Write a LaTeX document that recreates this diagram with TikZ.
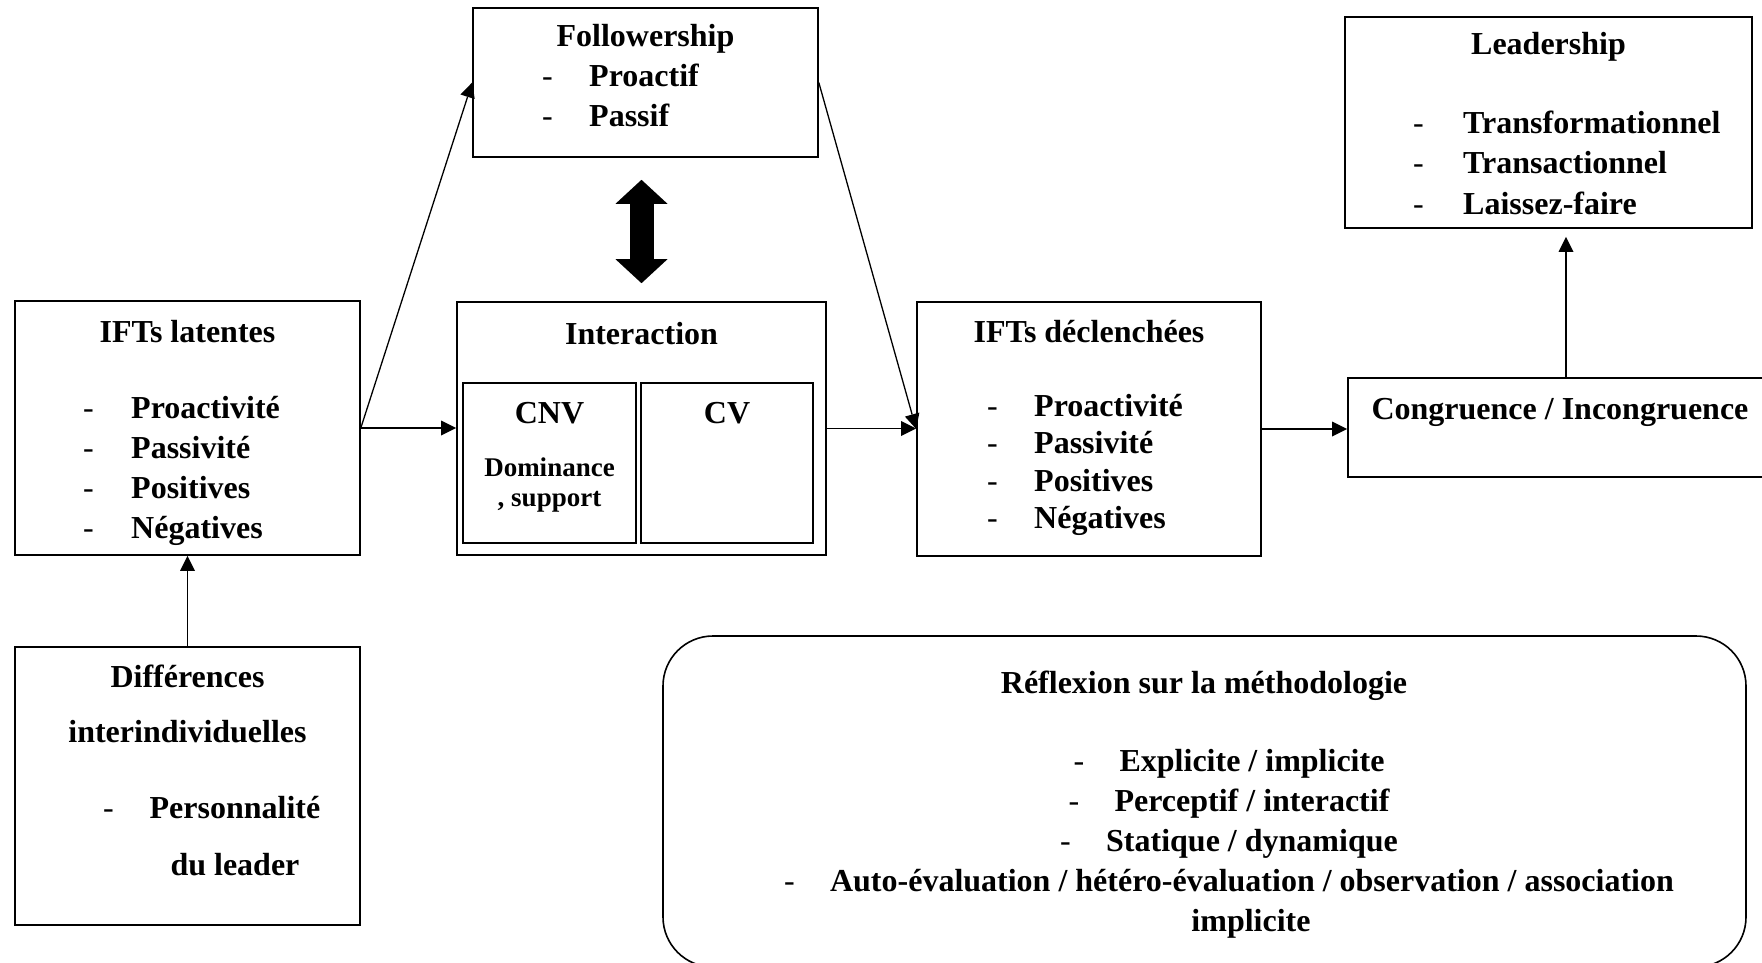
\documentclass[tikz,border=0pt]{standalone}
\usepackage{fontspec}
\setmainfont{Liberation Serif}
\usetikzlibrary{arrows.meta}

\begin{document}
\begin{tikzpicture}[x=1pt, y=-1pt,
    box/.style={draw, rectangle, line width=1.6pt, inner sep=0pt},
    txt/.style={inner sep=0pt, anchor=base, font=\fontsize{32}{38}\selectfont\bfseries},
    smalltxt/.style={inner sep=0pt, anchor=base, font=\fontsize{27}{32}\selectfont\bfseries},
    item/.style={txt, anchor=base west},
    tiret/.style={inner sep=0pt, anchor=base west, font=\fontsize{32}{38}\selectfont},
    flow/.style={line width=1.3pt, -{Triangle[length=15pt, width=15pt, line width=0pt]}},
    bigtip/.tip={Triangle[length=24pt, width=52pt, line width=0pt]}]

        \useasboundingbox (0,0) rectangle (1762,963);
        \clip (0,0) rectangle (1762,963);

        % Boxes
        \node[box, minimum width=345pt, minimum height=254pt] (lat) at (187.5,428) {};
        \node[box, minimum width=345pt, minimum height=278pt] (diff) at (187.5,786) {};
        \node[box, minimum width=345pt, minimum height=149pt] (foll) at (645.5,82.5) {};
        \node[box, minimum width=369pt, minimum height=253pt] (inter) at (641.5,428.5) {};
        \node[box, minimum width=173pt, minimum height=160pt] (cnv) at (549.5,463) {};
        \node[box, minimum width=172pt, minimum height=160pt] (cv) at (727,463) {};
        \node[box, minimum width=344pt, minimum height=254pt] (decl) at (1089,429) {};
        \node[box, minimum width=436pt, minimum height=99pt] (cong) at (1566,427.5) {};
        \node[box, minimum width=407pt, minimum height=211pt] (lead) at (1548.5,122.5) {};
        \node[box, rounded corners=50pt, minimum width=1083pt, minimum height=331pt] (refl) at (1204.5,801.5) {};

        % IFTs latentes
        \node[txt] (lat-t) at (187.5,342) {IFTs latentes};
        \foreach \word [count=\i] in {Proactivité,Passivité,Positives,Négatives} {
            \node[tiret] (lat-d\i) at (83,378+40*\i) {-};
            \node[item] (lat-\i) at (131,378+40*\i) {\word};
        }

        % Differences interindividuelles
        \node[txt] (diff-t1) at (187.5,687) {Différences};
        \node[txt] (diff-t2) at (187.5,742) {interindividuelles};
        \node[tiret] (diff-d1) at (103,818) {-};
        \node[txt] (diff-1) at (235,818) {Personnalité};
        \node[txt] (diff-2) at (235,875) {du leader};

        % Followership
        \node[txt] (foll-t) at (645.5,47) {Followership};
        \foreach \word [count=\i] in {Proactif,Passif} {
            \node[tiret] (foll-d\i) at (542,47+40*\i) {-};
            \node[item] (foll-\i) at (589,47+40*\i) {\word};
        }

        % Interaction
        \node[txt] (inter-t) at (641.5,344) {Interaction};
        \node[txt] (cnv-t) at (549.5,423) {CNV};
        \node[txt] (cv-t) at (727,423) {CV};
        \node[smalltxt] (cnv-1) at (549.5,476) {Dominance};
        \node[smalltxt] (cnv-2) at (549.5,506) {, support};

        % IFTs declenchees
        \node[txt] (decl-t) at (1089,342) {IFTs déclenchées};
        \foreach \word [count=\i] in {Proactivité,Passivité,Positives,Négatives} {
            \node[tiret] (decl-d\i) at (987,378.5+37.5*\i) {-};
            \node[item] (decl-\i) at (1034,378.5+37.5*\i) {\word};
        }

        % Congruence
        \node[txt] (cong-t) at (1560,419) {Congruence / Incongruence};

        % Leadership
        \node[txt] (lead-t) at (1548.5,55) {Leadership};
        \foreach \word [count=\i] in {Transformationnel,Transactionnel,Laissez-faire} {
            \node[tiret] (lead-d\i) at (1413,94+40*\i) {-};
            \node[item] (lead-\i) at (1463,94+40*\i) {\word};
        }

        % Reflexion sur la methodologie
        \node[txt] (refl-t) at (1204,693) {Réflexion sur la méthodologie};
        \foreach \word [count=\i] in {Explicite / implicite,Perceptif / interactif,Statique / dynamique,Auto-évaluation / hétéro-évaluation / observation / association} {
            \node[txt] (refl-\i) at (1252,731+40*\i) {\word};
            \node[tiret] (refl-d\i) at ([xshift=-46pt]refl-\i.base west) {-};
        }
        \node[txt] (refl-5) at (1251,931) {implicite};

        % Connectors
        \draw[flow] (lat.east) -- (lat.east -| inter.west);
        \draw[flow] (lat.east) -- (foll.west);
        \draw[flow] (foll.east) -- (decl.west);
        \draw[flow] (inter.east) -- (inter.east -| decl.west);
        \draw[flow] (decl.east) -- (decl.east -| cong.west);
        \draw[flow, shorten >=8pt] (cong.north) -- (cong.north |- lead.south);
        \draw[flow] (diff.north) -- (lat.south);

        % Followership <-> Interaction
        \draw[line width=24pt, {bigtip}-{bigtip}, shorten <=22pt, shorten >=18pt] (inter.north |- foll.south) -- (inter.north);
    \end{tikzpicture}
\end{document}
